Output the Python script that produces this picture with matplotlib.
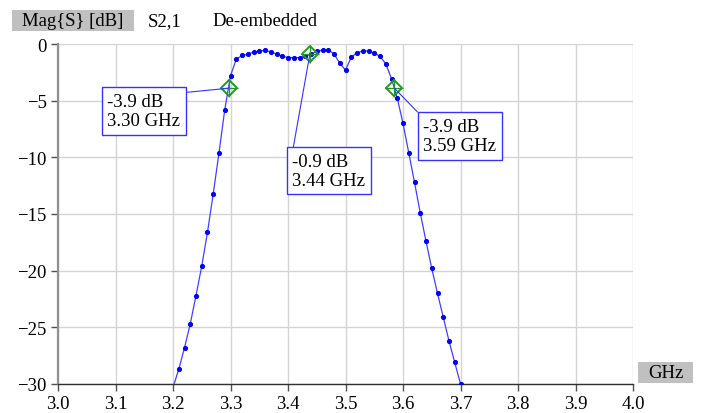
import matplotlib.pyplot as plt
from matplotlib.patches import Rectangle

# Mag S2,1 samples (GHz, dB)
freq = [3.20, 3.21, 3.22, 3.23, 3.24, 3.25, 3.26, 3.27, 3.28, 3.29,
        3.30, 3.31, 3.32, 3.33, 3.34, 3.35, 3.36, 3.37, 3.38, 3.39,
        3.40, 3.41, 3.42, 3.43, 3.44, 3.45, 3.46, 3.47, 3.48, 3.49,
        3.50, 3.51, 3.52, 3.53, 3.54, 3.55, 3.56, 3.57, 3.58, 3.59,
        3.60, 3.61, 3.62, 3.63, 3.64, 3.65, 3.66, 3.67, 3.68, 3.69, 3.70]
mag_db = [-30.3, -28.7, -26.8, -24.7, -22.2, -19.6, -16.6, -13.2, -9.6, -5.8,
          -2.8, -1.35, -1.0, -0.92, -0.72, -0.65, -0.55, -0.7, -0.88, -1.07,
          -1.2, -1.2, -1.2, -1.07, -0.9, -0.65, -0.55, -0.55, -0.85, -1.7,
          -2.3, -1.17, -0.77, -0.62, -0.62, -0.8, -1.1, -1.74, -3.06, -4.77,
          -7.0, -9.6, -12.2, -14.9, -17.4, -19.8, -22.0, -24.1, -26.2, -28.1, -30.0]

# markers
mk_freq = [3.297, 3.438, 3.585]
mk_db = [-3.9, -0.9, -3.9]
mk_text = ["-3.9 dB\n3.30 GHz", "-0.9 dB\n3.44 GHz", "-3.9 dB\n3.59 GHz"]
# label box top-left corners (data coords) and where the leader leaves the box
box_pos = [(3.076, -3.85), (3.398, -9.13), (3.626, -6.07)]
box_rel = [(1, 1), (0, 1), (0, 1)]

xticks = [3.0, 3.1, 3.2, 3.3, 3.4, 3.5, 3.6, 3.7, 3.8, 3.9, 4.0]
yticks = [0, -5, -10, -15, -20, -25, -30]

plt.rcParams['font.family'] = ['Liberation Serif', 'DejaVu Serif']
plt.rcParams['font.size'] = 13.5

W, H = 701, 414
fig = plt.figure(figsize=(W / 100, H / 100), dpi=100)
ax = fig.add_axes([58 / W, 1 - 385 / H, 575 / W, 340 / H])

ax.plot(freq, mag_db, color='#4040ff', lw=0.9, marker='o', ms=2.7,
        mfc='#0000ff', mec='#0000ff', clip_on=True, zorder=3)
ax.plot(mk_freq, mk_db, ls='none', marker='D', ms=8, mfc='none',
        mec='#1f9a1f', mew=1.4, zorder=5)
ax.plot(mk_freq, mk_db, ls='none', marker='+', ms=13, mec='#1f9a1f',
        mew=0.9, zorder=5)

for (fx, fy), txt, pos, rel in zip(zip(mk_freq, mk_db), mk_text, box_pos, box_rel):
    ax.annotate(txt, xy=(fx, fy), xytext=(pos[0] + 0.0095, pos[1] - 0.47),
                ha='left', va='top', linespacing=1.15,
                bbox=dict(boxstyle='square,pad=0.3', fc='white', ec='#3333ff', lw=1),
                arrowprops=dict(arrowstyle='-', color='#3333ff', lw=0.8,
                                relpos=rel, shrinkA=0, shrinkB=0),
                zorder=6, annotation_clip=False)

ax.set_xlim(3.0, 4.0)
ax.set_ylim(-30, 0)
ax.set_xticks(xticks)
ax.set_xticklabels(['%.1f' % v for v in xticks])
ax.set_yticks(yticks)
ax.grid(True, color='#d4d4d4', lw=1)
ax.set_axisbelow(True)

for s in ['top', 'right']:
    ax.spines[s].set_visible(False)
ax.spines['left'].set_color('#909090')
ax.spines['left'].set_linewidth(1.6)
ax.spines['bottom'].set_color('#303030')
ax.spines['bottom'].set_linewidth(1.0)
ax.tick_params(direction='out', length=5, width=1, color='#505050', pad=3)

# header
fig.patches.append(Rectangle((11.7 / W, 1 - 32 / H), 122.6 / W, 21 / H,
                             transform=fig.transFigure, fc='#c0c0c0', ec='none'))
fig.text(21.5 / W, 1 - 21.5 / H, "Mag{S} [dB]", va='center', ha='left')
fig.text(147.7 / W, 1 - 21.5 / H, "S2,1", va='center', ha='left')
fig.text(212.3 / W, 1 - 21.5 / H, "De-embedded", va='center', ha='left')

# x unit label
fig.patches.append(Rectangle((637.7 / W, 1 - 384.3 / H), 55.6 / W, 21.6 / H,
                             transform=fig.transFigure, fc='#c0c0c0', ec='none'))
fig.text(665.5 / W, 1 - 373.5 / H, "GHz", va='center', ha='center')

fig.savefig('out.png', dpi=100)
